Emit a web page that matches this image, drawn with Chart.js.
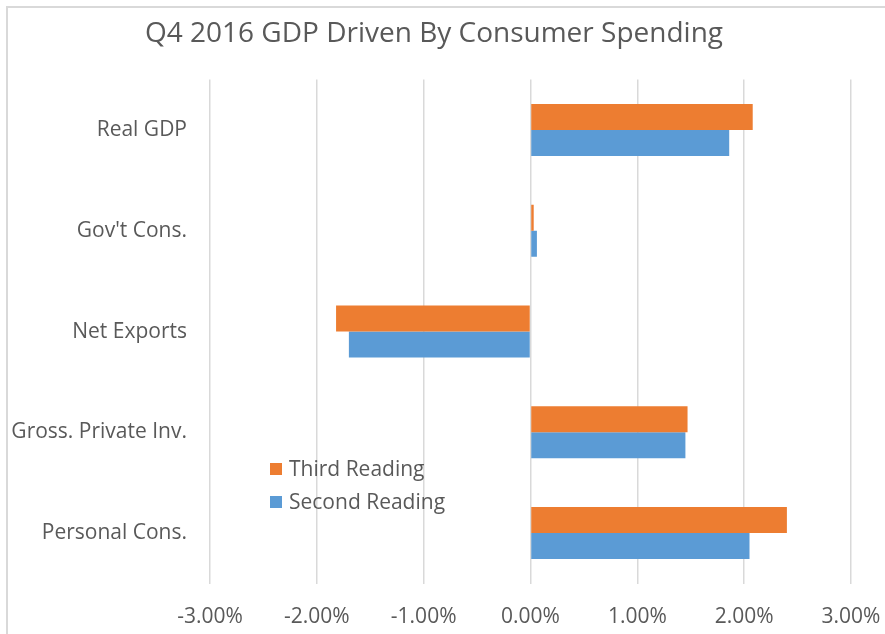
<!DOCTYPE html>
<html>
<head>
<meta charset="utf-8">
<script src="https://cdn.jsdelivr.net/npm/chart.js@4.4.0/dist/chart.umd.min.js"></script>
<style>
  html, body { margin: 0; padding: 0; background: #fff; overflow: hidden; }
  #frame { position: absolute; left: 6px; top: 6px; width: 900px; height: 700px;
           border-left: 2px solid #d9d9d9; border-top: 2px solid #d9d9d9; }
  #wrap { position: absolute; left: 0; top: 0; width: 885px; height: 634px; }
</style>
</head>
<body>
<div id="frame"></div>
<div id="wrap"><canvas id="gdpChart" width="885" height="634"></canvas></div>
<script>
const categories = ["Real GDP", "Gov't Cons.", "Net Exports", "Gross. Private Inv.", "Personal Cons."];
const thirdReading = [2.08, 0.03, -1.82, 1.47, 2.40];
const secondReading = [1.86, 0.06, -1.70, 1.45, 2.05];
const xTicks = [-3, -2, -1, 0, 1, 2, 3];

const textColor = "#595959";
const fontFamily = "'Open Sans', 'Noto Sans', sans-serif";

// legend drawn inside the plot, like the excel one
const insideLegend = {
    id: "insideLegend",
    afterDraw(chart) {
        const ctx = chart.ctx;
        ctx.save();
        ctx.font = "21px " + fontFamily;
        ctx.textBaseline = "middle";
        ctx.textAlign = "left";
        chart.data.datasets.forEach((ds, i) => {
            const y = 469 + i * 33;
            ctx.fillStyle = ds.backgroundColor;
            ctx.fillRect(270, y - 6, 12, 12);
            ctx.fillStyle = textColor;
            ctx.fillText(ds.label, 289, y + 1);
        });
        ctx.restore();
    }
};

new Chart(document.getElementById("gdpChart").getContext("2d"), {
    type: "bar",
    data: {
        labels: categories,
        datasets: [{
            label: "Third Reading",
            data: thirdReading,
            backgroundColor: "#ED7D31",
            categoryPercentage: 0.516,
            barPercentage: 1
        }, {
            label: "Second Reading",
            data: secondReading,
            backgroundColor: "#5B9BD5",
            categoryPercentage: 0.516,
            barPercentage: 1
        }]
    },
    options: {
        indexAxis: "y",
        responsive: false,
        animation: false,
        layout: { padding: { left: 0, right: 17, top: 0, bottom: 0 } },
        plugins: {
            legend: { display: false },
            tooltip: { enabled: false },
            title: {
                display: true,
                text: "Q4 2016 GDP Driven By Consumer Spending",
                color: textColor,
                font: { family: fontFamily, size: 28, weight: "normal" },
                padding: { top: 17, bottom: 29 }
            }
        },
        scales: {
            x: {
                min: -3,
                max: 3,
                afterBuildTicks(scale) {
                    scale.ticks = xTicks.map(v => ({ value: v }));
                },
                afterFit(scale) {
                    scale.height = 50.5;
                    scale.paddingLeft = 0;
                    scale.paddingRight = 34;
                },
                grid: { color: "#d9d9d9", lineWidth: 1.5, drawTicks: false },
                border: { display: false },
                ticks: {
                    color: textColor,
                    padding: 21,
                    font: { family: fontFamily, size: 21 },
                    callback: v => v.toFixed(2) + "%"
                }
            },
            y: {
                afterFit(scale) { scale.width = 210; },
                grid: { display: false, drawTicks: false },
                border: { display: false },
                ticks: {
                    color: textColor,
                    padding: 23,
                    font: { family: fontFamily, size: 21 }
                }
            }
        }
    },
    plugins: [insideLegend]
});
</script>
</body>
</html>
